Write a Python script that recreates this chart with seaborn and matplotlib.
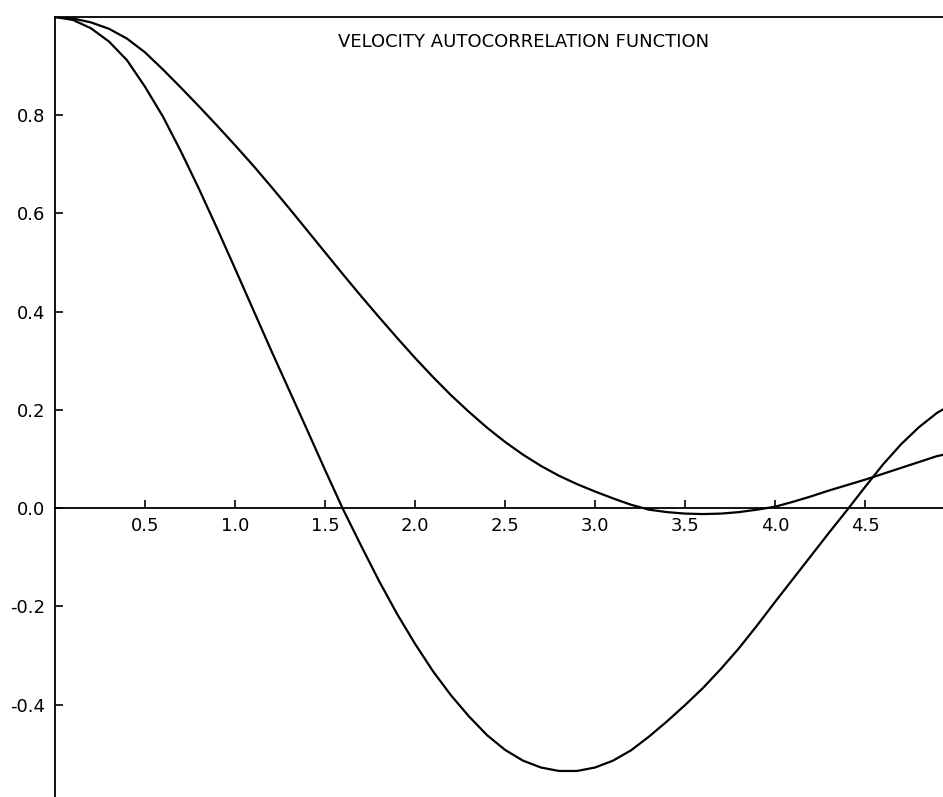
import numpy as np
import pandas as pd
import matplotlib
matplotlib.use("Agg")
import matplotlib.pyplot as plt
import seaborn as sns

# ---- data ----
t_values = [0.0, 0.1, 0.2, 0.3, 0.4, 0.5, 0.6, 0.7, 0.8, 0.9,
            1.0, 1.1, 1.2, 1.3, 1.4, 1.5, 1.6, 1.7, 1.8, 1.9,
            2.0, 2.1, 2.2, 2.3, 2.4, 2.5, 2.6, 2.7, 2.8, 2.9,
            3.0, 3.1, 3.2, 3.3, 3.4, 3.5, 3.6, 3.7, 3.8, 3.9,
            4.0, 4.1, 4.2, 4.3, 4.4, 4.5, 4.6, 4.7, 4.8, 4.9, 5.0]

vacf_slow = [1.000, 0.997, 0.989, 0.976, 0.956, 0.928, 0.893, 0.856, 0.818, 0.779,
             0.739, 0.698, 0.655, 0.611, 0.566, 0.521, 0.476, 0.432, 0.389, 0.347,
             0.306, 0.267, 0.230, 0.196, 0.164, 0.135, 0.109, 0.086, 0.066, 0.049,
             0.034, 0.020, 0.007, -0.003, -0.008, -0.011, -0.012, -0.011, -0.008, -0.003,
             0.003, 0.013, 0.024, 0.036, 0.047, 0.058, 0.070, 0.082, 0.094, 0.106, 0.114]

vacf_fast = [1.000, 0.994, 0.977, 0.950, 0.912, 0.858, 0.797, 0.726, 0.650, 0.570,
             0.488, 0.405, 0.322, 0.241, 0.160, 0.078, -0.002, -0.076, -0.148, -0.215,
             -0.276, -0.332, -0.381, -0.424, -0.462, -0.492, -0.514, -0.528, -0.535, -0.535,
             -0.528, -0.514, -0.493, -0.465, -0.434, -0.401, -0.366, -0.327, -0.285, -0.239,
             -0.191, -0.144, -0.097, -0.050, -0.004, 0.043, 0.089, 0.130, 0.165, 0.194, 0.215]

x_ticks = [0.5, 1.0, 1.5, 2.0, 2.5, 3.0, 3.5, 4.0, 4.5]
x_tick_labels = ["0.5", "1.0", "1.5", "2.0", "2.5", "3.0", "3.5", "4.0", "4.5"]
y_ticks = [-0.4, -0.2, 0.0, 0.2, 0.4, 0.6, 0.8]
y_tick_labels = ["-0.4", "-0.2", "0.0", "0.2", "0.4", "0.6", "0.8"]
title_text = "VELOCITY AUTOCORRELATION FUNCTION"

df = pd.DataFrame({"t": t_values + t_values,
                   "vacf": vacf_slow + vacf_fast,
                   "series": ["slow"] * len(t_values) + ["fast"] * len(t_values)})

sns.set_style("white")
plt.rcParams["font.family"] = ["DejaVu Sans"]

W, H = 943, 797
fig = plt.figure(figsize=(W / 100, H / 100), dpi=100)
left_px, top_px = 55, 17
ax = fig.add_axes([left_px / W, 0.0, 1 - left_px / W, (H - top_px) / H])

sns.lineplot(data=df, x="t", y="vacf", units="series", estimator=None,
             color="black", linewidth=1.6, ax=ax, legend=False, sort=False)
for ln in ax.get_lines():
    ln.set_solid_joinstyle("round")

ax.set_xlim(0, (W - left_px) / 180.0)
ax.set_ylim(-(H - 508) / 491.5, 1.0)

ax.spines["right"].set_visible(False)
ax.spines["bottom"].set_position(("data", 0.0))
for s in ["left", "bottom", "top"]:
    ax.spines[s].set_linewidth(1.3)
    ax.spines[s].set_color("black")

ax.set_xticks(x_ticks)
ax.set_xticklabels(x_tick_labels)
ax.set_yticks(y_ticks)
ax.set_yticklabels(y_tick_labels)
ax.tick_params(axis="x", direction="in", length=6, width=1.2, pad=6,
               labelsize=13, colors="black", bottom=True, top=False)
ax.tick_params(axis="y", direction="in", length=6, width=1.2, pad=7,
               labelsize=13, colors="black", left=True, right=False)
ax.set_xlabel("")
ax.set_ylabel("")
ax.grid(False)

fig.text(523.5 / W, 1 - 42 / H, title_text, ha="center", va="center",
         fontsize=13, color="black")

fig.savefig("out.png", dpi=100)
